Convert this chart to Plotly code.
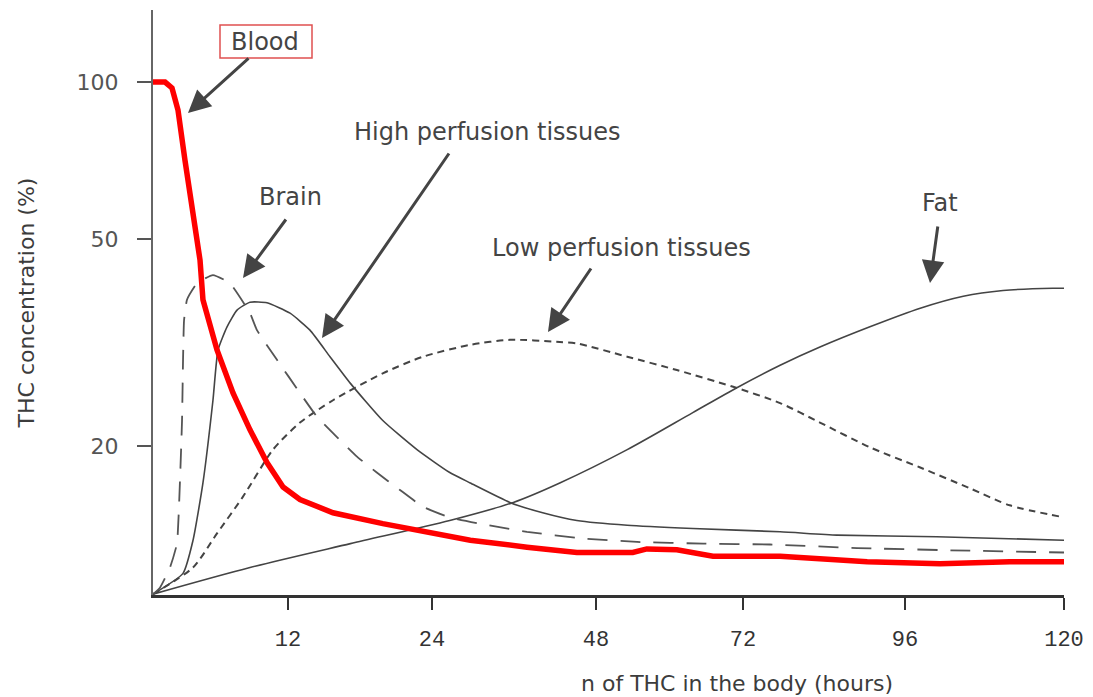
import numpy as np
import plotly.graph_objects as go

# ---------------- data (hours, THC concentration %) ----------------
blood_t = [0, 1.07, 1.69, 2.22, 2.84, 3.47, 4.18, 4.44, 5.69, 7.11, 8.62, 10.13, 11.56, 13.0, 15.75,
           19.9, 24.1, 29.6, 37.9, 45.2, 54.0, 56.3, 61.2, 67.1, 77.5, 85.3, 90.4, 101.3, 111.8, 120]
blood_c = [100, 100, 97.4, 88.4, 70.8, 56.8, 45.5, 38.2, 30.6, 25.3, 21.5, 18.6, 16.7, 15.8, 14.9,
           14.2, 13.6, 13.2, 12.8, 12.5, 12.5, 12.7, 12.65, 12.3, 12.3, 12.1, 12.0, 11.9, 12.0, 12.0]

brain_t = [0, 0.62, 1.51, 2.13, 2.4, 2.58, 2.67, 2.76, 3.02, 3.91, 5.33, 6.84, 8.62, 9.24, 11.02,
           13.0, 14.4, 16.1, 17.75, 19.4, 21.3, 23.25, 26.6, 31.0, 37.9, 46.1, 54.7, 65.5, 76.0,
           88.9, 105.8, 120]
brain_c = [10.4, 10.7, 11.7, 13.0, 17.2, 22.4, 29.3, 34.9, 38.2, 41.1, 42.6, 41.1, 36.0, 33.4, 29.3,
           25.3, 22.8, 20.8, 19.1, 17.8, 16.5, 15.3, 14.6, 14.2, 13.7, 13.3, 13.1, 13.0, 12.95,
           12.75, 12.6, 12.5]

high_t = [0, 2.67, 3.56, 4.44, 5.33, 5.78, 6.58, 7.47, 8.62, 10.13, 12.17, 13.83, 15.5, 17.2, 19.9,
          22.75, 26.6, 29.6, 35.4, 40.2, 45.2, 53.1, 63.8, 77.5, 85.9, 100.8, 120]
high_c = [10.4, 11.4, 13.2, 17.0, 24.5, 30.6, 33.9, 36.5, 37.8, 37.7, 36.0, 33.4, 29.7, 26.4, 22.4,
          19.7, 17.8, 17.0, 15.6, 14.9, 14.4, 14.1, 13.9, 13.7, 13.5, 13.4, 13.2]

low_t = [0, 3.56, 5.69, 8.0, 10.67, 13.0, 15.75, 19.9, 23.25, 29.6, 35.4, 42.7, 45.2, 53.1, 61.2,
         70.4, 77.5, 83.4, 90.8, 98.3, 105.8, 111.8, 120]
low_c = [10.4, 11.7, 13.6, 16.0, 19.7, 22.2, 24.5, 27.6, 29.7, 31.3, 32.0, 31.7, 31.5, 29.7, 28.0,
         26.0, 24.2, 22.2, 19.9, 18.2, 16.6, 15.4, 14.6]

fat_t = [0, 8.62, 17.2, 26.6, 35.9, 42.7, 53.1, 63.8, 71.0, 77.5, 83.4, 90.8, 98.3, 104.8, 110.8,
         118.3, 120]
fat_c = [10.4, 11.7, 13.0, 14.4, 15.6, 17.0, 19.7, 23.2, 25.9, 28.6, 31.0, 33.9, 36.8, 38.8, 39.8,
         40.2, 40.2]

x_tick_hours = [0, 12, 24, 48, 72, 96, 120]
x_tick_labels = ["12", "24", "48", "72", "96", "120"]
y_tick_vals = [20, 50, 100]
y_tick_labels = ["20", "50", "100"]

# ---------------- layout geometry ----------------
W, H = 1093, 697
L, R, T, B = 153, 29, 10, 102
PW, PH = W - L - R, H - T - B
# non-uniform time axis: positions of the hour ticks along the axis
axis_pos = [0, 135, 279, 443, 590, 752, 911]


def tx(hours):
    return np.interp(hours, x_tick_hours, axis_pos)


def px(xp):
    return (xp - L) / PW


def py(yp):
    return (H - B - yp) / PH


ink = "#3c3c3c"
fig = go.Figure()

curves = [
    (fat_t, fat_c, dict(color="#444444", width=1.6, shape="spline", smoothing=0.8)),
    (low_t, low_c, dict(color="#444444", width=2, dash="7px,5px", shape="spline", smoothing=0.7)),
    (high_t, high_c, dict(color="#444444", width=1.6, shape="spline", smoothing=0.5)),
    (brain_t, brain_c, dict(color="#555555", width=1.8, dash="20px,13px", shape="spline",
                            smoothing=0.4)),
    (blood_t, blood_c, dict(color="#ff0000", width=5.5)),
]
for t, c, ln in curves:
    fig.add_trace(go.Scatter(x=tx(t), y=c, mode="lines", line=ln, hoverinfo="skip",
                             showlegend=False))

ann_font = dict(family="DejaVu Sans", size=24, color="#444444")
labels = [
    ("Blood", 265, 42),
    ("Brain", 290, 197),
    ("High perfusion tissues", 487, 132),
    ("Low perfusion tissues", 621, 248),
    ("Fat", 940, 203),
]
for text, x0, y0 in labels:
    fig.add_annotation(text=text, x=px(x0), y=py(y0), xref="paper", yref="paper",
                       showarrow=False, font=ann_font, xanchor="center", yanchor="middle")

fig.add_shape(type="rect", xref="paper", yref="paper",
              x0=px(220), x1=px(312), y0=py(58), y1=py(25),
              line=dict(color="#e05050", width=1.5), fillcolor="rgba(0,0,0,0)")

arrows = [
    ((250, 57), (188, 113)),
    ((287, 218), (243, 278)),
    ((450, 152), (322, 338)),
    ((592, 267), (548, 332)),
    ((938, 225), (930, 283)),
]
for (tx0, ty0), (hx, hy) in arrows:
    fig.add_annotation(text="", x=px(hx), y=py(hy), xref="paper", yref="paper",
                       ax=tx0 - hx, ay=ty0 - hy, axref="pixel", ayref="pixel",
                       showarrow=True, arrowhead=2, arrowsize=1.5, arrowwidth=3,
                       arrowcolor="#444444", standoff=0)

fig.add_annotation(text="n of THC in the body (hours)", x=px(737), y=py(683), xref="paper",
                   yref="paper", showarrow=False, xanchor="center", yanchor="middle",
                   font=dict(family="DejaVu Sans", size=22, color=ink))

fig.update_layout(
    width=W, height=H, margin=dict(l=L, r=R, t=T, b=B),
    paper_bgcolor="white", plot_bgcolor="white",
    xaxis=dict(range=[0, axis_pos[-1]], tickvals=axis_pos[1:], ticktext=x_tick_labels,
               showgrid=False, zeroline=False, showline=True, linecolor="#333333", linewidth=2.5,
               ticks="outside", ticklen=12, tickwidth=2, tickcolor="#333333",
               ticklabelstandoff=10,
               tickfont=dict(family="Liberation Mono", size=22, color="#333333")),
    yaxis=dict(type="log", range=[np.log10(10.36), np.log10(137.5)], tickvals=y_tick_vals,
               ticktext=y_tick_labels, showgrid=False, zeroline=False, showline=True,
               linecolor="#666666", linewidth=2, ticks="outside", ticklen=14, tickwidth=2,
               tickcolor="#555555", ticklabelstandoff=14,
               tickfont=dict(family="DejaVu Sans", size=22, color="#555555"),
               title=dict(text="THC concentration (%)", standoff=36,
                          font=dict(family="DejaVu Sans", size=22, color=ink))),
)

fig.write_html("out.html", config={"displayModeBar": False},
               post_script="document.body.style.margin='0';")
